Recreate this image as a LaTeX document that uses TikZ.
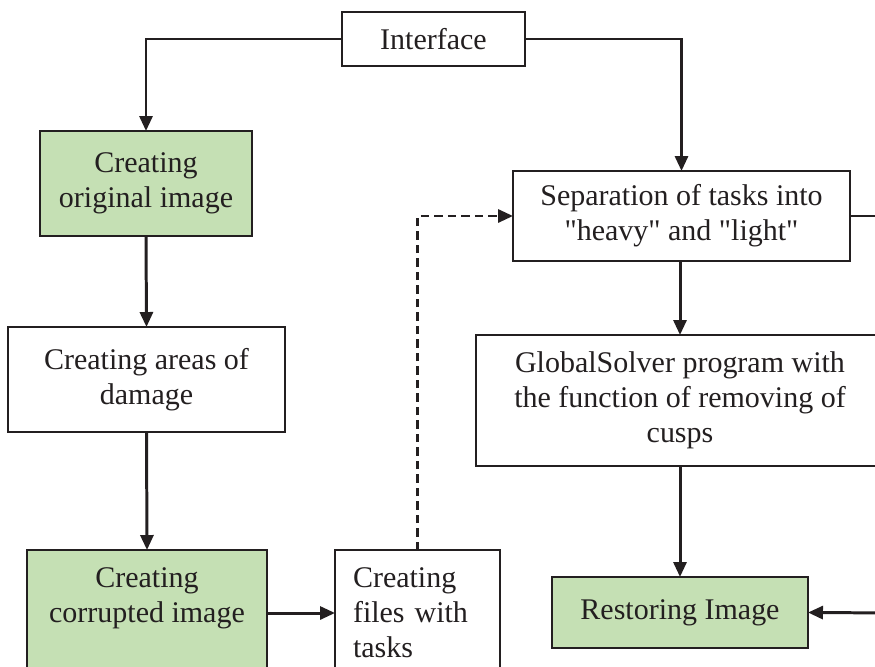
\documentclass[tikz,border=0pt]{standalone}
\usepackage{fontspec}
\setmainfont{Liberation Serif}
\usepackage{tikz}
\usetikzlibrary{arrows.meta, positioning, calc}
\definecolor{light green}{HTML}{C5E0B4}
\definecolor{ink}{HTML}{231F20}

\begin{document}
\begin{tikzpicture}[x=0.02cm, y=-0.02cm,
    font=\fontsize{17.07}{19.9}\selectfont,
    box/.style={draw=ink, line width=0.8pt, fill=white, inner sep=0pt, outer sep=0pt, align=center, text=ink},
    greenbox/.style={box, fill=light green},
    conn/.style={ink, line width=1.7pt, -{Triangle[length=0.3cm, width=0.26cm]}},
    line/.style={ink, line width=1.7pt}]
    \useasboundingbox (0,0) rectangle (875,666);
    \clip (0,0) rectangle (875,666);
    % left column
    \node[box, minimum width=3.66cm, minimum height=1.08cm] (iface) at (433.5,39) {Interface};
    \node[greenbox, minimum width=4.24cm, minimum height=2.1cm] (orig) at (146,183.5) {Creating\\original image};
    \node[box, minimum width=5.54cm, minimum height=2.1cm] (areas) at (146.5,379.5) {Creating areas of\\damage};
    \node[greenbox, minimum width=4.8cm, minimum height=2.52cm] (corrupt) at (147,613) {Creating\\corrupted image\\\mbox{}};
    \node[box, minimum width=3.3cm, minimum height=2.52cm, inner xsep=0.36cm, text width=2.58cm, align=left] (files) at (417.5,613) {Creating\\files with\\tasks};
    % right column
    \node[box, minimum width=6.74cm, minimum height=1.8cm] (sep) at (681.5,216) {Separation of tasks into\\\textquotedbl heavy\textquotedbl{} and \textquotedbl light\textquotedbl};
    \node[box, minimum width=8.16cm, minimum height=2.62cm] (gs) at (680,400.5) {GlobalSolver program with\\the function of removing of\\cusps};
    \node[greenbox, minimum width=5.12cm, minimum height=1.42cm] (rest) at (680,612.5) {\raisebox{2pt}{Restoring Image}};
    \coordinate (outa) at (900,216);
    \coordinate (outb) at (900,613);
    % connectors
    \draw[conn] (iface.west) -| (orig.north);
    \draw[conn] (iface.east) -| (sep.north);
    \draw[conn] (orig.south) -- (areas.north);
    \draw[conn] (areas.south) -- (corrupt.north);
    \draw[conn] (corrupt.east) -- (files.west);
    \draw[conn, dash pattern=on 0.17cm off 0.1cm] (files.north) |- (sep.west);
    \draw[conn] ($(sep.south)+(-1.5,0)$) -- (gs.north);
    \draw[conn] (gs.south) -- (rest.north);
    \draw[line] (sep.east) -- (outa);
    \draw[conn] (outb) -- (rest.east);
\end{tikzpicture}
\end{document}
